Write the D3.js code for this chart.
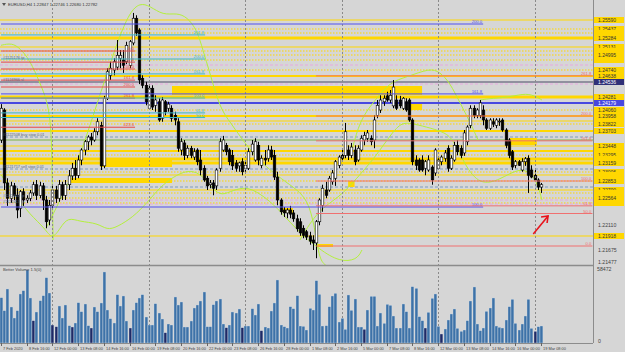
<!DOCTYPE html>
<html lang="en">
<head>
<meta charset="utf-8">
<script src="https://d3js.org/d3.v7.min.js"></script>
<title>EURUSD,H4</title>
<style>
  body { margin: 0; background: #d6d6d6; }
  svg { display: block; font-family: "Liberation Sans", Arial, sans-serif; }
</style>
</head>
<body>
<svg id="chart" width="625" height="352"></svg>
<script>
// ---- data ----
var symbolTitle = "EURUSD,H4  1.22847 1.22746 1.22680 1.22782";
var volumeTitle = "Better Volume 1.5(0)";

// one label every 8 bars
var timeLabels = ["7 Feb 2020", "8 Feb 16:00", "12 Feb 00:00", "13 Feb 08:00", "14 Feb 16:00", "16 Feb 00:00",
  "19 Feb 08:00", "20 Feb 16:00", "22 Feb 00:00", "23 Feb 08:00", "26 Feb 16:00", "28 Feb 00:00",
  "1 Mar 08:00", "2 Mar 16:00", "5 Mar 00:00", "7 Mar 08:00", "8 Mar 16:00", "12 Mar 00:00",
  "13 Mar 08:00", "14 Mar 16:00", "16 Mar 00:00", "19 Mar 08:00"];
var separatorBars = [16, 46, 76, 106, 136, 166];

var open = [1.2355,1.2406,1.2282,1.2256,1.2277,1.2261,1.2239,1.2267,1.2253,1.2256,
  1.2265,1.2279,1.2261,1.2277,1.2253,1.2219,1.2244,1.2270,1.2256,1.2279,
  1.2261,1.2279,1.2294,1.2307,1.2295,1.2321,1.2338,1.2352,1.2360,1.2355,
  1.2369,1.2380,1.2311,1.2426,1.2465,1.2474,1.2479,1.2494,1.2491,1.2488,
  1.2482,1.2520,1.2562,1.2542,1.2460,1.2448,1.2409,1.2443,1.2414,1.2420,
  1.2392,1.2420,1.2409,1.2409,1.2397,1.2386,1.2338,1.2350,1.2329,1.2341,
  1.2326,1.2338,1.2321,1.2307,1.2290,1.2279,1.2282,1.2277,1.2307,1.2338,
  1.2346,1.2338,1.2329,1.2316,1.2311,1.2318,1.2307,1.2307,1.2335,1.2321,
  1.2346,1.2312,1.2324,1.2324,1.2338,1.2329,1.2292,1.2253,1.2236,1.2231,
  1.2236,1.2231,1.2221,1.2216,1.2205,1.2199,1.2192,1.2185,1.2180,1.2216,
  1.2244,1.2270,1.2270,1.2284,1.2290,1.2312,1.2329,1.2329,1.2338,1.2329,
  1.2338,1.2321,1.2338,1.2355,1.2358,1.2358,1.2355,1.2397,1.2406,1.2420,
  1.2430,1.2423,1.2413,1.2423,1.2423,1.2409,1.2420,1.2423,1.2389,1.2321,
  1.2321,1.2321,1.2307,1.2304,1.2309,1.2299,1.2307,1.2318,1.2324,1.2341,
  1.2307,1.2321,1.2346,1.2341,1.2333,1.2352,1.2380,1.2409,1.2397,1.2397,
  1.2406,1.2389,1.2375,1.2386,1.2380,1.2386,1.2389,1.2372,1.2355,1.2335,
  1.2312,1.2318,1.2304,1.2318,1.2324,1.2304,1.2295,1.2287,1.2275];
var high = [1.2416,1.2409,1.2290,1.2284,1.2282,1.2273,1.2270,1.2273,1.2261,1.2270,
  1.2284,1.2287,1.2284,1.2282,1.2260,1.2253,1.2279,1.2277,1.2287,1.2284,
  1.2287,1.2304,1.2316,1.2321,1.2329,1.2341,1.2355,1.2363,1.2367,1.2375,
  1.2392,1.2386,1.2430,1.2477,1.2488,1.2494,1.2525,1.2508,1.2508,1.2522,
  1.2525,1.2571,1.2567,1.2545,1.2465,1.2454,1.2448,1.2448,1.2431,1.2426,
  1.2428,1.2423,1.2420,1.2414,1.2403,1.2392,1.2358,1.2355,1.2346,1.2345,
  1.2341,1.2341,1.2338,1.2312,1.2294,1.2287,1.2287,1.2307,1.2358,1.2362,
  1.2350,1.2341,1.2338,1.2321,1.2318,1.2324,1.2321,1.2341,1.2355,1.2358,
  1.2352,1.2329,1.2338,1.2346,1.2345,1.2338,1.2301,1.2256,1.2241,1.2239,
  1.2243,1.2236,1.2228,1.2222,1.2210,1.2202,1.2199,1.2193,1.2219,1.2256,
  1.2279,1.2284,1.2294,1.2304,1.2321,1.2329,1.2338,1.2384,1.2346,1.2350,
  1.2346,1.2346,1.2363,1.2369,1.2372,1.2363,1.2397,1.2423,1.2431,1.2431,
  1.2437,1.2440,1.2457,1.2431,1.2430,1.2428,1.2426,1.2426,1.2392,1.2329,
  1.2324,1.2329,1.2321,1.2329,1.2312,1.2341,1.2324,1.2329,1.2338,1.2346,
  1.2329,1.2352,1.2355,1.2346,1.2372,1.2380,1.2414,1.2414,1.2409,1.2423,
  1.2414,1.2392,1.2392,1.2392,1.2392,1.2392,1.2392,1.2375,1.2358,1.2338,
  1.2321,1.2321,1.2324,1.2326,1.2329,1.2312,1.2307,1.2290,1.2282];
var low = [1.2350,1.2270,1.2243,1.2248,1.2253,1.2222,1.2224,1.2243,1.2248,1.2251,
  1.2260,1.2253,1.2256,1.2236,1.2205,1.2210,1.2239,1.2248,1.2250,1.2253,
  1.2253,1.2270,1.2287,1.2287,1.2290,1.2312,1.2329,1.2338,1.2346,1.2352,
  1.2363,1.2304,1.2307,1.2423,1.2457,1.2465,1.2474,1.2477,1.2469,1.2484,
  1.2477,1.2516,1.2532,1.2450,1.2443,1.2414,1.2406,1.2406,1.2403,1.2386,
  1.2386,1.2397,1.2403,1.2386,1.2380,1.2335,1.2329,1.2321,1.2324,1.2324,
  1.2321,1.2312,1.2295,1.2284,1.2270,1.2273,1.2261,1.2270,1.2301,1.2335,
  1.2329,1.2312,1.2304,1.2301,1.2301,1.2295,1.2301,1.2304,1.2329,1.2318,
  1.2312,1.2307,1.2312,1.2318,1.2321,1.2287,1.2244,1.2228,1.2224,1.2222,
  1.2222,1.2216,1.2199,1.2192,1.2188,1.2185,1.2177,1.2168,1.2154,1.2210,
  1.2233,1.2256,1.2267,1.2279,1.2277,1.2307,1.2318,1.2324,1.2321,1.2324,
  1.2312,1.2318,1.2335,1.2346,1.2352,1.2346,1.2341,1.2392,1.2401,1.2413,
  1.2420,1.2418,1.2409,1.2406,1.2409,1.2406,1.2403,1.2386,1.2312,1.2304,
  1.2301,1.2301,1.2295,1.2301,1.2279,1.2294,1.2304,1.2312,1.2318,1.2301,
  1.2304,1.2318,1.2329,1.2324,1.2328,1.2346,1.2375,1.2392,1.2392,1.2392,
  1.2380,1.2372,1.2372,1.2377,1.2375,1.2379,1.2369,1.2341,1.2324,1.2304,
  1.2307,1.2311,1.2301,1.2311,1.2265,1.2290,1.2284,1.2270,1.2265];
var close = [1.2409,1.2282,1.2256,1.2277,1.2261,1.2236,1.2267,1.2253,1.2256,1.2265,
  1.2279,1.2261,1.2277,1.2253,1.2216,1.2244,1.2270,1.2256,1.2279,1.2261,
  1.2279,1.2294,1.2307,1.2295,1.2321,1.2338,1.2352,1.2360,1.2355,1.2369,
  1.2386,1.2311,1.2426,1.2471,1.2477,1.2488,1.2499,1.2499,1.2482,1.2516,
  1.2522,1.2562,1.2537,1.2457,1.2448,1.2420,1.2443,1.2411,1.2423,1.2389,
  1.2423,1.2403,1.2416,1.2392,1.2389,1.2341,1.2352,1.2329,1.2341,1.2329,
  1.2335,1.2318,1.2304,1.2287,1.2277,1.2282,1.2273,1.2304,1.2352,1.2355,
  1.2335,1.2318,1.2311,1.2307,1.2316,1.2301,1.2312,1.2335,1.2348,1.2352,
  1.2321,1.2324,1.2321,1.2338,1.2326,1.2292,1.2253,1.2233,1.2231,1.2236,
  1.2229,1.2221,1.2204,1.2197,1.2193,1.2190,1.2183,1.2180,1.2216,1.2253,
  1.2273,1.2261,1.2290,1.2299,1.2318,1.2326,1.2324,1.2369,1.2329,1.2343,
  1.2318,1.2341,1.2358,1.2363,1.2367,1.2352,1.2389,1.2414,1.2423,1.2426,
  1.2423,1.2431,1.2445,1.2409,1.2413,1.2426,1.2406,1.2389,1.2318,1.2312,
  1.2304,1.2304,1.2318,1.2321,1.2287,1.2338,1.2321,1.2326,1.2333,1.2307,
  1.2324,1.2346,1.2335,1.2329,1.2367,1.2377,1.2409,1.2397,1.2406,1.2418,
  1.2389,1.2375,1.2389,1.2382,1.2389,1.2387,1.2372,1.2346,1.2329,1.2309,
  1.2318,1.2312,1.2318,1.2323,1.2295,1.2292,1.2287,1.2275,1.2279];

var volume = [35330,25190,42120,28080,19500,25190,38220,40790,56940,35100,
  17390,24180,32990,36890,50930,39000,14040,12710,28860,19500,
  29640,13490,12480,15600,31430,24410,30420,13490,11700,28080,
  24410,31200,55380,25740,18950,15600,37670,28860,36660,17160,
  11700,25740,31430,35100,37670,20280,14040,14040,30650,23400,
  18720,8030,14820,14040,35880,29640,31980,12480,12480,17160,
  27300,29640,32760,39780,12710,
  12710,29870,32760,34320,14820,11930,14040,24180,23400,26520,
  11930,13260,13260,26750,21840,30420,9590,12480,11700,24960,
  31200,49140,14040,12710,11700,28310,26750,36890,13260,13030,
  10140,27070,25740,48590,37990,13260,13490,28310,36660,38770,
  16380,19270,10690,37440,25510,34320,12480,12480,10690,25740,
  36430,36430,13260,23400,15370,30190,29410,21060,11700,11700,
  30420,24410,11700,
  43910,42670,20510,17390,11700,23950,34870,38220,13030,7020,
  10920,17940,22620,26520,11470,9130,10140,17390,32760,43680,
  14820,9590,11700,24730,27300,35100,13260,12250,11700,17940,
  28310,34090,15370,10140,14820,21060,34090,11470,9130,12710,
  13260];
var lowVolumeBars = [10, 16, 17, 22, 28, 40, 51, 70, 75, 81, 113, 132, 137, 166];
var volumeMax = 58472;

// smooth band curves: [bar, price]
var bandUpper = [[0,1.2516],[3.4,1.2520],[5.9,1.2511],[9,1.2491],[12.1,1.2452],[14.3,1.2423],[15.6,1.2380],[15.9,1.2304],[16.2,1.2185]];
var bandRise = [[14,1.2205],[18.4,1.2253],[23,1.2304],[27.7,1.2380],[32.3,1.2457],[36.4,1.2525],[40.1,1.2573],
  [43.2,1.2588],[46.3,1.2583],[50.4,1.2567],[54.7,1.2571],[57.9,1.2564],[61,1.2542],[62.8,1.2508],[65,1.2469],
  [68.1,1.2409],[71.2,1.2386],[77.4,1.2338],[82.4,1.2309],[89,1.2282],[93,1.2267],[96.1,1.2244],[98,1.2193],
  [99.2,1.2148],[101.7,1.2140]];
var bandLower = [[0,1.2296],[4.4,1.2262],[9,1.2228],[13.7,1.2205],[15.9,1.2185],[18.4,1.2205],[20.8,1.2224],
  [24.6,1.2216],[29.9,1.2214],[33,1.2202],[36.1,1.2207],[41.1,1.2224],[45.4,1.2248],[49.5,1.2275],[53.5,1.2292],
  [57.9,1.2304],[61.9,1.2299],[65,1.2278],[68.1,1.2260],[71.2,1.2267],[75.3,1.2275],[79,1.2270],[85.2,1.2245],
  [91.4,1.2205],[99.2,1.2168],[105.4,1.2148],[110.7,1.2151],[112.3,1.2168]];
var bandMidRight = [[93,1.2185],[98.6,1.2236],[105.4,1.2258],[110.7,1.2290],[115.7,1.2321],[120.1,1.2355],
  [124.1,1.2384],[127.2,1.2384],[132.5,1.2377],[137.5,1.2369],[140.6,1.2358],[144.3,1.2312],[149,1.2278],
  [155.2,1.2287],[161.4,1.2309],[166.1,1.2296],[168.3,1.2253]];
var bandUpperRight = [[109.2,1.2338],[111.7,1.2389],[115.7,1.2418],[121,1.2454],[126.3,1.2462],[133.4,1.2477],
  [136.5,1.2471],[139.7,1.2452],[142.8,1.2418],[145.9,1.2386],[148.4,1.2355]];
var bandTopRight = [[149,1.2423],[153,1.2426],[158.3,1.2428],[163.6,1.2435],[166.7,1.2428],[168.3,1.2423]];

// horizontal levels (prices)
var yellowThin = [1.25590, 1.25131, 1.23873, 1.23448, 1.22955, 1.22700, 1.21918];
var yellowMid = [1.24638, 1.23958, 1.23703, 1.23363];
var yellowThick = [1.25284, 1.24281, 1.23227, 1.23159];
var yellowDotted = [1.25437, 1.25369, 1.25063, 1.24995, 1.24910, 1.24740, 1.24060, 1.23822,
  1.23295, 1.23006, 1.22853, 1.22649, 1.22564, 1.22479];
var pinkDashed = [1.24825, 1.24502, 1.22530, 1.22462];
var orderLines = [1.23601, 1.23057, 1.22751];
var blueLevel = 1.24179;
var darkLevel = 1.24536;
var greenLevel = 1.23550;

// order / level notes on the left edge: [price, text]
var orderNotes = [[1.24910, "#1125176 tp"], [1.24536, "#1124966 sl"], [1.23601, "#1122508 buy stop 0.01"],
  [1.23057, "#1121717 sell stop 0.01"], [1.22564, "#1122416 tp"], [1.22462, "#1122417 tp"]];

// fibonacci objects: price at 0 and 100, bar range, levels
var fibLeft = { p0: 1.25063, p100: 1.24757, from: 0, to: 41.7, levels: [0, 61.8, 100, 161.8, 200, 261.8, 423.6] };
var fibCyan = { p0: 1.23601, p100: 1.24264, from: 0, to: 63.5, levels: [50, 61.8, 100, 161.8, 200, 261.8] };
var fibBlue = { p0: 1.19300, p100: 1.22411, from: 0, to: 150, levels: [100, 161.8, 200] };
var fibRight = { p0: 1.21748, p100: 1.22853, from: 98, to: 184, levels: [0, 50, 61.8, 100, 161.8, 200, 261.8] };

// yellow zones: [fromBar, toBar, top, bottom]
var zones = [[53.2, 131, 1.24468, 1.24315], [30.8, 53.2, 1.23244, 1.23091], [21.5, 53.2, 1.22904, 1.22819],
  [158.3, 166.7, 1.23584, 1.23465], [127.2, 131, 1.24162, 1.24060], [87.7, 90.8, 1.22394, 1.22309],
  [98.3, 103.3, 1.21782, 1.21731], [108, 110, 1.22853, 1.22751]];

var priceTicks = [1.21477, 1.21675, 1.22110, 1.22545, 1.22980, 1.23415, 1.23850, 1.24285, 1.24720, 1.25155, 1.25590];
var arrowFrom = [165.6, 1.21952], arrowTo = [170.2, 1.22258];

// ---- layout ----
var plotRight = 593, mainBottom = 265, volBottom = 343;
var svg = d3.select("#chart");
var x = d3.scaleLinear().domain([0, 168]).range([1, 541]);
var y = d3.scaleLinear().domain([1.21425, 1.2593]).range([mainBottom, 0]);
var yv = d3.scaleLinear().domain([0, volumeMax]).range([volBottom, 268]);

svg.append("rect").attr("width", 625).attr("height", 352).attr("fill", "#d6d6d6");
svg.append("clipPath").attr("id", "mainClip").append("rect")
  .attr("x", 0).attr("y", 0).attr("width", plotRight).attr("height", mainBottom);
var main = svg.append("g").attr("clip-path", "url(#mainClip)");

// week separators
svg.append("g").selectAll("line").data(separatorBars).join("line")
  .attr("x1", function(d){ return Math.round(x(d)) + 0.5; })
  .attr("x2", function(d){ return Math.round(x(d)) + 0.5; })
  .attr("y1", 0).attr("y2", volBottom)
  .attr("stroke", "#8a8a8a").attr("stroke-dasharray", "2,2");

function hlines(data, color, width, dash) {
  main.append("g").selectAll("line").data(data).join("line")
    .attr("x1", 0).attr("x2", plotRight)
    .attr("y1", function(d){ return y(d); }).attr("y2", function(d){ return y(d); })
    .attr("stroke", color).attr("stroke-width", width)
    .attr("stroke-dasharray", dash || null);
}
hlines(yellowDotted, "#ffd700", 1, "1.5,1.5");
hlines(pinkDashed, "#e8a8e0", 1.2, "3,2");
hlines(orderLines, "#7d9cc0", 1, "3,2");
hlines(yellowThin, "#ffd700", 1);
hlines(yellowMid, "#ffd700", 2);
hlines(yellowThick, "#ffd700", 3.2);
hlines([darkLevel], "#4a4a66", 1.2);
hlines([blueLevel], "#4848e0", 2);
hlines([greenLevel], "#7cb342", 1.2);

// zones
main.append("g").selectAll("rect").data(zones).join("rect")
  .attr("x", function(d){ return x(d[0]); })
  .attr("width", function(d){ return x(d[1]) - x(d[0]); })
  .attr("y", function(d){ return y(d[2]); })
  .attr("height", function(d){ return y(d[3]) - y(d[2]); })
  .attr("fill", "#ffd700");

// fibonacci levels
function fib(f, color) {
  var g = svg.append("g");
  f.levels.forEach(function(r) {
    var p = f.p0 + (f.p100 - f.p0) * r / 100;
    var x2 = Math.min(x(f.to), plotRight);
    g.append("line").attr("x1", x(f.from)).attr("x2", x2)
      .attr("y1", y(p)).attr("y2", y(p)).attr("stroke", color).attr("stroke-width", 1);
    g.append("text").attr("x", x2 - 1).attr("y", y(p) - 0.8)
      .attr("text-anchor", "end")
      .attr("font-size", 4.2).attr("fill", color).text(r.toFixed(1));
  });
}
fib(fibLeft, "#e84848");
fib(fibCyan, "#3cb8c8");
fib(fibBlue, "#5050f0");
fib(fibRight, "#f07070");

// left notes
svg.append("g").selectAll("text").data(orderNotes).join("text")
  .attr("x", 3).attr("y", function(d){ return y(d[0]) - 1; })
  .attr("font-size", 3.9).attr("fill", "#5a6a80").text(function(d){ return d[1]; });

// bands
var bandLine = d3.line().x(function(d){ return x(d[0]); }).y(function(d){ return y(d[1]); }).curve(d3.curveBasis);
[bandUpper, bandRise, bandLower, bandMidRight, bandUpperRight, bandTopRight].forEach(function(b) {
  main.append("path").attr("d", bandLine(b)).attr("fill", "none")
    .attr("stroke", "#b4f03c").attr("stroke-width", 1);
});

// candles
var bars = d3.range(open.length);
var candle = main.append("g").selectAll("g").data(bars).join("g");
candle.append("line")
  .attr("x1", function(i){ return Math.round(x(i)) + 0.5; })
  .attr("x2", function(i){ return Math.round(x(i)) + 0.5; })
  .attr("y1", function(i){ return y(high[i]); }).attr("y2", function(i){ return y(low[i]); })
  .attr("stroke", "#000").attr("stroke-width", 1);
candle.append("rect")
  .attr("x", function(i){ return Math.round(x(i)) - 0.8; })
  .attr("width", 2.6)
  .attr("y", function(i){ return y(Math.max(open[i], close[i])); })
  .attr("height", function(i){ return Math.max(0.8, Math.abs(y(open[i]) - y(close[i]))); })
  .attr("fill", function(i){ return close[i] >= open[i] ? "#ffffff" : "#000000"; })
  .attr("stroke", "#000").attr("stroke-width", 0.6);

// axis price boxes for horizontal lines
var boxes = [];
yellowThin.concat(yellowMid, yellowThick, yellowDotted).forEach(function(p){ boxes.push([p, "#ffd700", "#333"]); });
boxes.push([darkLevel, "#303078", "#fff"]);
boxes.push([blueLevel, "#4848e0", "#fff"]);
boxes.sort(function(a, b){ return b[0] - a[0]; });

// price axis: grey ticks where no box covers them
var axisG = svg.append("g");
axisG.selectAll("text").data(priceTicks.filter(function(t){
    return !boxes.some(function(b){ return Math.abs(y(b[0]) - y(t)) < 6; });
  })).join("text")
  .attr("x", 598).attr("y", function(d){ return y(d) + 1.8; })
  .attr("font-size", 5.2).attr("fill", "#444").text(function(d){ return d.toFixed(5); });
var lastTextY = -99;
var boxG = svg.append("g").selectAll("g").data(boxes).join("g")
  .attr("transform", function(d){ return "translate(594," + y(d[0]) + ")"; });
boxG.append("rect").attr("x", 0).attr("y", -3).attr("width", 30).attr("height", 6)
  .attr("fill", function(d){ return d[1]; });
boxG.each(function(d) {
  // a box mostly hidden by the next one down shows no readable text
  var yy = y(d[0]);
  if (yy - lastTextY < 5.6) return;
  lastTextY = yy;
  d3.select(this).append("text").attr("x", 4).attr("y", 1.8).attr("font-size", 5)
    .attr("fill", d[2]).text(d[0].toFixed(5));
});

// volume
svg.append("g").selectAll("rect").data(bars).join("rect")
  .attr("x", function(i){ return Math.round(x(i)) - 1; })
  .attr("width", 2.9)
  .attr("y", function(i){ return yv(volume[i]); })
  .attr("height", function(i){ return volBottom - yv(volume[i]); })
  .attr("fill", function(i){ return lowVolumeBars.indexOf(i) >= 0 ? "#1f2a66" : "#3d72a8"; })
  .attr("stroke", "#d0dde9").attr("stroke-width", 0.35);

// frame
svg.append("line").attr("x1", 0).attr("x2", plotRight).attr("y1", 265.5).attr("y2", 265.5)
  .attr("stroke", "#8c8c8c").attr("stroke-width", 1.5);
svg.append("line").attr("x1", plotRight + 0.5).attr("x2", plotRight + 0.5).attr("y1", 0).attr("y2", volBottom)
  .attr("stroke", "#8c8c8c");
svg.append("line").attr("x1", 0).attr("x2", plotRight).attr("y1", volBottom + 0.5).attr("y2", volBottom + 0.5)
  .attr("stroke", "#8c8c8c");

// time axis
var tg = svg.append("g").selectAll("g").data(timeLabels).join("g")
  .attr("transform", function(d, k){ return "translate(" + Math.round(x(k * 8)) + ",0)"; });
tg.append("line").attr("x1", 0.5).attr("x2", 0.5).attr("y1", volBottom).attr("y2", volBottom + 3).attr("stroke", "#666");
tg.append("text").attr("x", 2).attr("y", 349.5).attr("font-size", 3.9).attr("fill", "#444").text(function(d){ return d; });

// titles and volume axis
svg.append("path").attr("d", "M2,3 L6,3 L4,6 Z").attr("fill", "#555");
svg.append("text").attr("x", 8).attr("y", 6).attr("font-size", 4.2).attr("fill", "#333").text(symbolTitle);
svg.append("text").attr("x", 3).attr("y", 271).attr("font-size", 4.2).attr("fill", "#444").text(volumeTitle);
svg.append("text").attr("x", 597).attr("y", 271).attr("font-size", 5.2).attr("fill", "#444").text(String(volumeMax));
svg.append("text").attr("x", 598).attr("y", 343).attr("font-size", 5.2).attr("fill", "#444").text("0");

// red arrow annotation
var ax1 = x(arrowFrom[0]), ay1 = y(arrowFrom[1]), ax2 = x(arrowTo[0]), ay2 = y(arrowTo[1]);
svg.append("line").attr("x1", ax1).attr("y1", ay1).attr("x2", ax2).attr("y2", ay2)
  .attr("stroke", "#e8141c").attr("stroke-width", 1.6);
svg.append("path").attr("d", "M" + (ax2 - 7) + "," + (ay2 + 1) + " L" + ax2 + "," + ay2 + " L" + (ax2 - 1) + "," + (ay2 + 7))
  .attr("fill", "none").attr("stroke", "#e8141c").attr("stroke-width", 1.6);
</script>
</body>
</html>
